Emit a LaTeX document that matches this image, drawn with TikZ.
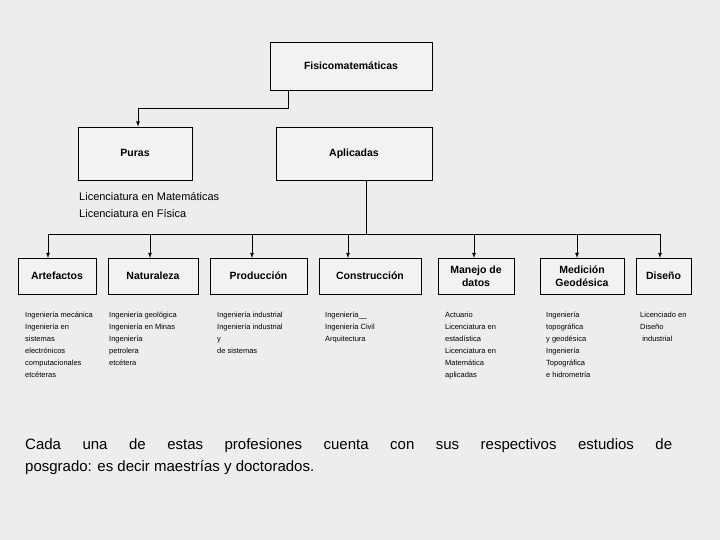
\documentclass[tikz,border=0pt]{standalone}
\usepackage{fontspec}
\setmainfont{Liberation Sans}
\usetikzlibrary{positioning}
\tikzset{
  box/.style={draw, thick, fill=gray!10, align=center, font=\bfseries\fontsize{10.5}{13}\selectfont, inner sep=1pt},
  lista/.style={anchor=north west, align=left, font=\fontsize{7.5}{12}\selectfont, inner sep=0pt},
  flecha/.style={thick, -latex},
}
\begin{document}
\begin{tikzpicture}[x=1pt, y=-1pt]
\fill[gray!14] (0,0) rectangle (720,540);
\useasboundingbox (0,0) rectangle (720,540);
\node[box, minimum width=162pt, minimum height=48pt] (fis) at (351,66) {Fisicomatemáticas};
\node[box, minimum width=114pt, minimum height=53pt, text depth=.25ex] (pur) at (135,153.5) {Puras};
\node[box, minimum width=156pt, minimum height=53pt, text depth=.25ex] (apl) at (354,153.5) {Aplicadas};
\node[anchor=north west, align=left, font=\fontsize{11}{17}\selectfont, inner sep=0pt] (lic) at (79,192) {Licenciatura en Matemáticas\\Licenciatura en Física};
% ramas de aplicadas
\coordinate (bar) at (366,234);
\foreach \nom/\x/\w/\xa/\txt in {
    art/57/78/48/Artefactos, nat/153/90/150/Naturaleza, pro/258.5/97/252/Producción,
    con/370/102/348/Construcción, man/476/76/474/{Manejo de\\datos},
    med/582/84/577/{Medición\\Geodésica}, dis/663.5/55/660/Diseño} {
  \node[box, minimum width=\w pt, minimum height=36pt] (\nom) at (\x,276) {\txt};
  \draw[flecha] (\xa,234) -- (\xa,258);
}
\draw[thick] (fis.south -| 288,0) |- (138,108) coordinate (cp);
\draw[flecha] (cp) -- (cp |- pur.north);
\draw[thick] (apl.south -| bar) -- (bar);
\draw[thick] (48,234) -- (660,234);
% listas
\node[lista] (l1) at (25,312) {Ingeniería mecánica\\Ingeniería en\\sistemas\\electrónicos\\computacionales\\etcéteras};
\node[lista] (l2) at (109,312) {Ingeniería geológica\\Ingeniería en Minas\\Ingeniería\\petrolera\\etcétera};
\node[lista] (l3) at (217,312) {Ingeniería industrial\\Ingeniería industrial\\y\\de sistemas};
\node[lista] (l4) at (325,312) {Ingeniería\_\_\\Ingeniería Civil\\Arquitectura};
\node[lista] (l5) at (445,312) {Actuario\\Licenciatura en\\estadística\\Licenciatura en\\Matemática\\aplicadas};
\node[lista] (l6) at (546,312) {Ingeniería\\topográfica\\y geodésica\\Ingeniería\\Topográfica\\e hidrometría};
\node[lista] (l7) at (640,312) {Licenciado en\\Diseño\\\ industrial};
\node[anchor=north west, text width=647pt, align=justify, font=\fontsize{15}{22}\selectfont, inner sep=0pt] (nota) at (25,438)
  {\hyphenpenalty=10000 Cada una de estas profesiones cuenta con sus respectivos estudios de\linebreak posgrado: es decir maestrías y doctorados.};
\end{tikzpicture}
\end{document}
